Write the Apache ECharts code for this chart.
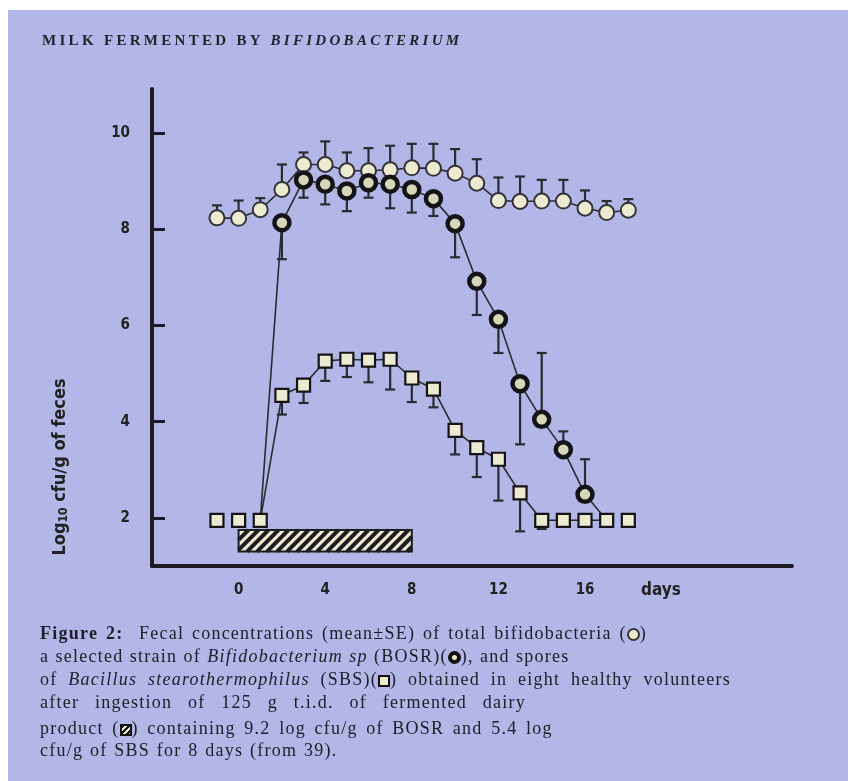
<!DOCTYPE html>
<html>
<head>
<meta charset="utf-8">
<script src="https://cdn.jsdelivr.net/npm/echarts@6/dist/echarts.min.js"></script>
<style>
  html, body { margin:0; padding:0; background:#ffffff; }
  #bg { position:absolute; left:8px; top:10px; width:840px; height:771px; background:#b3b7e7; }
  #chart { position:absolute; left:0; top:0; width:848px; height:781px; }
  .title { position:absolute; left:42px; top:31px; font-family:"Liberation Serif", serif; font-weight:bold; font-size:15px; line-height:18px; letter-spacing:3.3px; color:#23232e; white-space:nowrap; }
  .cap { position:absolute; left:40px; font-family:"Liberation Serif", serif; font-size:18px; line-height:20px; color:#20202a; white-space:nowrap; letter-spacing:1.25px; }
  .sym { display:inline-block; vertical-align:-2px; box-sizing:border-box; }
  .s-open { width:13px; height:13px; border-radius:50%; border:2px solid #333; background:#eeeacc; }
  .s-bosr { width:13px; height:13px; border-radius:50%; border:4px solid #111; background:#eeeacc; }
  .s-sbs { width:12px; height:12px; border:2px solid #111; background:#eeeacc; }
  .s-prod { width:12px; height:12px; border:2px solid #111; background:repeating-linear-gradient(135deg,#111 0 2px,#eeeacc 2px 4px); }
</style>
</head>
<body>
<div id="bg"></div>
<div id="chart"></div>
<div class="title">MILK FERMENTED BY <i>BIFIDOBACTERIUM</i></div>
<div class="cap" style="top:623px; word-spacing:2px"><b>Figure 2:</b>&nbsp; Fecal concentrations (mean±SE) of total bifidobacteria (<span class="sym s-open"></span>)</div>
<div class="cap" style="top:646px; word-spacing:0.5px">a selected strain of <i>Bifidobacterium sp</i> (BOSR)(<span class="sym s-bosr"></span>), and spores</div>
<div class="cap" style="top:669px; word-spacing:5px">of <i>Bacillus stearothermophilus</i> (SBS)(<span class="sym s-sbs"></span>) obtained in eight healthy volunteers</div>
<div class="cap" style="top:692px; word-spacing:10px">after ingestion of 125 g t.i.d. of fermented dairy</div>
<div class="cap" style="top:718px; word-spacing:2.8px">product (<span class="sym s-prod"></span>) containing 9.2 log cfu/g of BOSR and 5.4 log</div>
<div class="cap" style="top:740px; word-spacing:1px">cfu/g of SBS for 8 days (from 39).</div>
<script>
// ---------- data ----------
const days = [-1,0,1,2,3,4,5,6,7,8,9,10,11,12,13,14,15,16,17,18];
const totalMean   = [8.24,8.23,8.41,8.83,9.35,9.35,9.22,9.22,9.24,9.28,9.27,9.17,8.96,8.60,8.58,8.59,8.59,8.44,8.35,8.40];
const totalErrEnd = [8.50,8.60,8.65,9.35,9.60,9.83,9.60,9.69,9.74,9.78,9.78,9.67,9.46,9.08,9.10,9.03,9.03,8.81,8.59,8.63];

const bosrDays   = [1,2,3,4,5,6,7,8,9,10,11,12,13,14,15,16,17];
const bosrMean   = [1.95,8.14,9.03,8.94,8.80,8.97,8.94,8.83,8.64,8.12,6.92,6.13,4.79,4.05,3.42,2.49,1.95];
const bosrErrEnd = [null,7.38,8.66,8.52,8.38,8.66,8.44,8.35,8.28,7.42,6.22,5.43,3.53,5.43,3.80,3.22,null];

const sbsMean   = [1.95,1.95,1.95,4.55,4.76,5.26,5.30,5.28,5.30,4.91,4.68,3.82,3.46,3.22,2.52,1.95,1.95,1.95,1.95,1.95];
const sbsErrEnd = [null,null,null,4.15,4.39,4.85,4.93,4.82,4.67,4.41,4.30,3.32,2.85,2.36,1.72,1.77,null,null,null,null];
const sbsConnected = [1, 17];          // days joined by the SBS line
const detectionLimit = 1.95;           // BOSR points at the limit are shown by the SBS squares

const treatmentPeriod = [0, 8];        // ingestion days (hatched bar)

const xTickLabels = [0, 4, 8, 12, 16];
const yTickLabels = [2, 4, 6, 8, 10];

// ---------- build ----------
const ink = '#1c1c22';
const lineCol = '#2b2b30';
const fillLight = '#ecead0';

function errPairs(xs, means, ends) {
  const out = [];
  xs.forEach((d, i) => { if (ends[i] != null) out.push([d, means[i], ends[i]]); });
  return out;
}
const errData = []
  .concat(errPairs(days, totalMean, totalErrEnd))
  .concat(errPairs(bosrDays, bosrMean, bosrErrEnd))
  .concat(errPairs(days, sbsMean, sbsErrEnd));

const totalData = days.map((d, i) => [d, totalMean[i]]);
const bosrData = bosrDays.map((d, i) => {
  const item = { value: [d, bosrMean[i]] };
  if (bosrMean[i] <= detectionLimit) item.symbol = 'none';
  return item;
});
const sbsLine = [], sbsLone = [];
days.forEach((d, i) => {
  if (d >= sbsConnected[0] && d <= sbsConnected[1]) sbsLine.push([d, sbsMean[i]]);
  else sbsLone.push([d, sbsMean[i]]);
});

const chart = echarts.init(document.getElementById('chart'), null, { renderer: 'canvas' });
chart.setOption({
  backgroundColor: 'transparent',
  animation: false,
  grid: { left: 152, right: 56, top: 89, bottom: 215, containLabel: false },
  xAxis: {
    type: 'value', min: -4, max: 25.56,
    splitLine: { show: false },
    axisLine: { show: true, onZero: false, lineStyle: { color: ink, width: 4 } },
    axisTick: { show: false },
    axisLabel: {
      customValues: xTickLabels, margin: 17,
      fontFamily: 'DejaVu Sans Condensed', fontWeight: 'bold', fontSize: 15, color: '#222'
    }
  },
  yAxis: {
    type: 'value', min: 1, max: 10.92,
    splitLine: { show: false },
    axisLine: { show: true, onZero: false, lineStyle: { color: ink, width: 4 } },
    axisTick: { show: true, inside: true, length: 13, customValues: yTickLabels, lineStyle: { color: ink, width: 3 } },
    axisLabel: {
      customValues: yTickLabels, margin: 22,
      fontFamily: 'DejaVu Sans Condensed', fontWeight: 'bold', fontSize: 15, color: '#222'
    }
  },
  graphic: [
    {
      type: 'text', x: 60, y: 467, rotation: Math.PI / 2,
      style: {
        text: '{a|Log}{b|10}{a| cfu/g of feces}',
        align: 'center', verticalAlign: 'middle',
        rich: {
          a: { fontFamily: 'DejaVu Sans Condensed', fontWeight: 'bold', fontSize: 18, fill: '#222' },
          b: { fontFamily: 'DejaVu Sans Condensed', fontWeight: 'bold', fontSize: 12, fill: '#222', padding: [8, 0, 0, 0] }
        }
      }
    },
    {
      type: 'text', x: 661, y: 591,
      style: { text: 'days', align: 'center', verticalAlign: 'middle',
        fontFamily: 'DejaVu Sans Condensed', fontWeight: 'bold', fontSize: 17, fill: '#222' }
    }
  ],
  series: [
    {
      // hatched treatment bar
      type: 'custom', z: 1, silent: true,
      data: [treatmentPeriod],
      renderItem: function (params, api) {
        const yTop = 1.75, yBot = 1.30;
        const p0 = api.coord([api.value(0), yTop]);
        const p1 = api.coord([api.value(1), yBot]);
        const x0 = p0[0], y0 = p0[1], x1 = p1[0], y1 = p1[1];
        const h = y1 - y0, step = 10;
        const children = [{ type: 'rect', shape: { x: x0, y: y0, width: x1 - x0, height: h },
          style: { fill: fillLight, stroke: ink, lineWidth: 2 } }];
        for (let t = x0 - h; t < x1; t += step) {
          let sx = t, sy = y1, ex = t + h, ey = y0;
          if (sx < x0) { sy = y1 - (x0 - sx); sx = x0; }
          if (ex > x1) { ey = y0 + (ex - x1); ex = x1; }
          if (ex <= sx) continue;
          children.push({ type: 'line', shape: { x1: sx, y1: sy, x2: ex, y2: ey },
            style: { stroke: ink, lineWidth: 4 } });
        }
        return { type: 'group', children: children };
      }
    },
    {
      // error bars (mean to end, capped at the end)
      type: 'custom', z: 2, silent: true,
      data: errData,
      renderItem: function (params, api) {
        const a = api.coord([api.value(0), api.value(1)]);
        const b = api.coord([api.value(0), api.value(2)]);
        return { type: 'group', children: [
          { type: 'line', shape: { x1: a[0], y1: a[1], x2: b[0], y2: b[1] }, style: { stroke: '#2a2a32', lineWidth: 2.2 } },
          { type: 'line', shape: { x1: b[0] - 5, y1: b[1], x2: b[0] + 5, y2: b[1] }, style: { stroke: '#2a2a32', lineWidth: 2.2 } }
        ]};
      }
    },
    {
      name: 'total bifidobacteria', type: 'line', z: 3, data: totalData,
      symbol: 'circle', symbolSize: 15,
      lineStyle: { color: lineCol, width: 1.6 },
      itemStyle: { color: fillLight, borderColor: '#34343a', borderWidth: 2, opacity: 1 }
    },
    {
      name: 'BOSR', type: 'line', z: 4, data: bosrData,
      symbol: 'circle', symbolSize: 15,
      lineStyle: { color: lineCol, width: 1.6 },
      itemStyle: { color: '#d8d6b8', borderColor: '#141418', borderWidth: 4.5, opacity: 1 }
    },
    {
      name: 'SBS', type: 'line', z: 5, data: sbsLine,
      symbol: 'rect', symbolSize: 13,
      lineStyle: { color: lineCol, width: 1.6 },
      itemStyle: { color: fillLight, borderColor: '#141418', borderWidth: 2.2, opacity: 1 }
    },
    {
      name: 'SBS', type: 'scatter', z: 5, data: sbsLone,
      symbol: 'rect', symbolSize: 13,
      itemStyle: { color: fillLight, borderColor: '#141418', borderWidth: 2.2, opacity: 1 }
    }
  ]
});
</script>
</body>
</html>
